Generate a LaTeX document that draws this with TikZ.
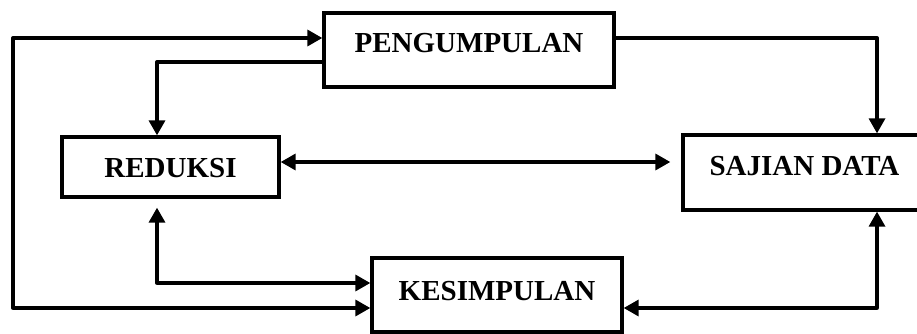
\documentclass[tikz,border=0pt]{standalone}
\usepackage{fontspec}
\setmainfont{Liberation Serif}
\usetikzlibrary{arrows.meta}
\begin{document}
\begin{tikzpicture}[x=1pt,y=-1pt,
  box/.style={draw, line width=3.3pt, inner sep=0pt, align=center, anchor=base,
    font=\bfseries\fontsize{29}{29}\selectfont},
  conn/.style={line width=3.3pt, line join=round},
  tip/.tip={Triangle[length=15pt,width=16pt]},
  arr/.style={conn, -tip},
  darr/.style={conn, tip-tip}]
\path[use as bounding box, clip] (0,0) rectangle (917,334);
% boxes (anchored at the text baseline; text height/depth give the box edges)
\node[box, minimum width=290pt, text height=40pt, text depth=34pt] (peng) at (469,53) {PENGUMPULAN};
\node[box, minimum width=217pt, text height=40pt, text depth=20pt] (red) at (170.5,177) {REDUKSI};
\node[box, minimum width=243pt, text height=40pt, text depth=35pt] (saj) at (804.5,175) {SAJIAN DATA};
\node[box, minimum width=250pt, text height=42pt, text depth=32pt] (kes) at (497,300) {KESIMPULAN};
% bend points
\coordinate (ltop) at (13,38);
\coordinate (lbot) at (13,308);
\coordinate (c2) at (157,62);
\coordinate (m1) at (0,162);
\coordinate (c4) at (877,38);
\coordinate (c5) at (877,308);
\coordinate (c6) at (157,283);
% connectors
\draw[darr] (ltop -| peng.west) -- (ltop) -- (lbot) -- (lbot -| kes.west);
\draw[arr] (c2 -| peng.west) -- (c2) -- (c2 |- red.north);
\draw[darr, shorten >=11pt] (m1 -| red.east) -- (m1 -| saj.west);
\draw[arr] (c4 -| peng.east) -- (c4) -- (c4 |- saj.north);
\draw[darr] (c5 |- saj.south) -- (c5) -- (c5 -| kes.east);
\draw[darr, shorten <=9pt] (c6 |- red.south) -- (c6) -- (c6 -| kes.west);
\end{tikzpicture}
\end{document}
